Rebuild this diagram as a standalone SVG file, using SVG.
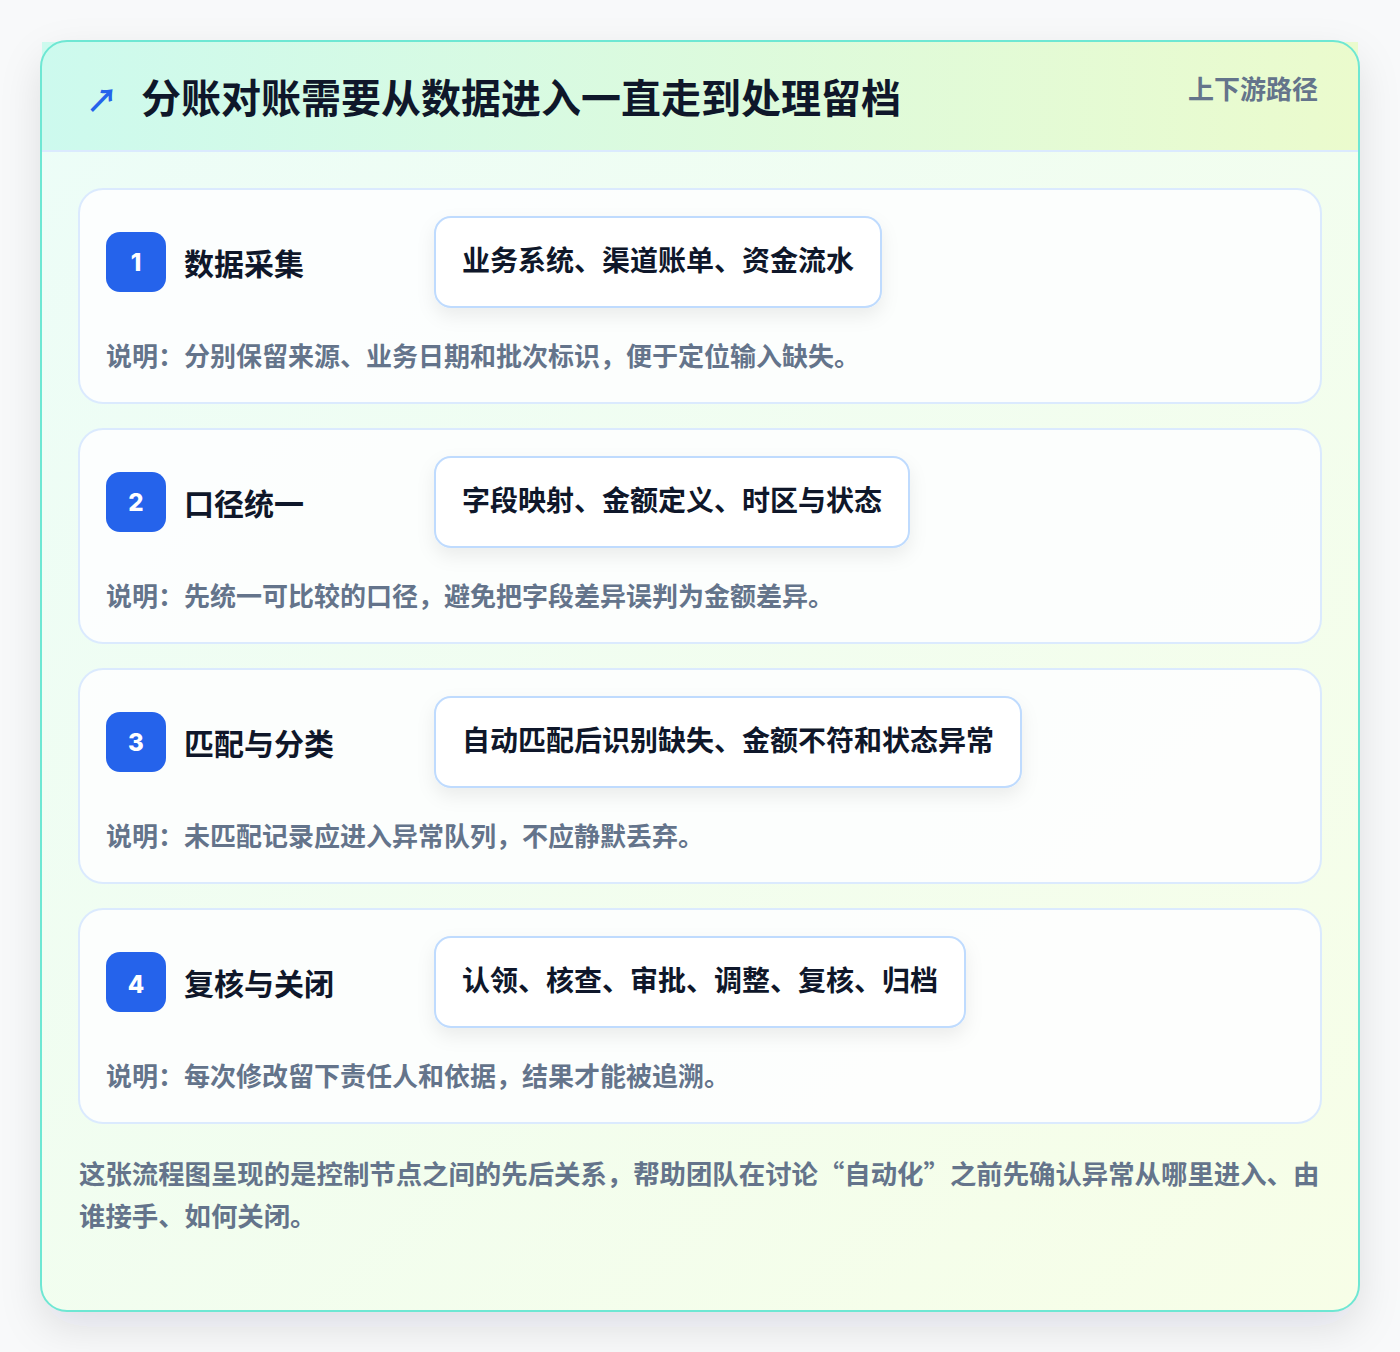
<svg xmlns="http://www.w3.org/2000/svg" width="1400" height="1352" viewBox="0 0 1400 1352">
<defs>
<linearGradient id="bodyGrad" x1="0" y1="0" x2="1" y2="1">
<stop offset="0" stop-color="#ecfdf8"/>
<stop offset="1" stop-color="#f7fee7"/>
</linearGradient>
<linearGradient id="headGrad" x1="0" y1="0" x2="1" y2="0">
<stop offset="0" stop-color="#cdfaee"/>
<stop offset="1" stop-color="#ebfbcd"/>
</linearGradient>
<filter id="outerShadow" x="-10%" y="-10%" width="120%" height="120%">
<feDropShadow dx="0" dy="16" stdDeviation="20" flood-color="#0f172a" flood-opacity="0.11"/>
</filter>
<filter id="chipShadow" x="-10%" y="-30%" width="120%" height="170%">
<feDropShadow dx="0" dy="8" stdDeviation="9" flood-color="#0f172a" flood-opacity="0.07"/>
</filter>
<style>
.t{font-family:"Noto Sans CJK SC","Noto Sans",sans-serif;font-weight:700}
.card{fill:#fdfefe;fill-opacity:0.92;stroke:#dbeafe;stroke-width:2}
.badge{fill:#2563eb}
.num{fill:#ffffff;font-size:24px;text-anchor:middle;font-family:"Inter","Noto Sans",sans-serif;font-weight:800}
.ttl{fill:#0f172a;font-size:30px}
.chip{fill:#ffffff;stroke:#bfdbfe;stroke-width:2}
.chiptext{fill:#0f172a;font-size:28px}
.desc{fill:#64748b;font-size:26px}
</style>
</defs>
<rect width="1400" height="1352" fill="#f8f9fa"/>
<g id="frame">
<rect x="41" y="41" width="1318" height="1270" rx="26" fill="url(#bodyGrad)" filter="url(#outerShadow)"/>
<rect x="42" y="42" width="1316" height="109" fill="url(#headGrad)"/>
<line x1="42" y1="151" x2="1358" y2="151" stroke="#dbeafe" stroke-width="2"/>
<rect x="41" y="41" width="1318" height="1270" rx="26" fill="none" stroke="#6ee7d3" stroke-width="2"/>
<text class="t" x="86" y="112" font-size="32" fill="#2563eb">↗</text>
<text class="t" x="141" y="113" font-size="40" fill="#0f172a">分账对账需要从数据进入一直走到处理留档</text>
<text class="t" x="1318" y="99" font-size="26" fill="#64748b" text-anchor="end">上下游路径</text>
</g>
<g id="node1">
<rect class="card" x="79" y="189" width="1242" height="214" rx="24"/>
<rect class="badge" x="106" y="232" width="60" height="60" rx="14"/>
<text class="num" x="136" y="271">1</text>
<text class="t ttl" x="184" y="275">数据采集</text>
<rect class="chip" x="435" y="217" width="446" height="90" rx="16" filter="url(#chipShadow)"/>
<text class="t chiptext" x="462" y="271">业务系统、渠道账单、资金流水</text>
<text class="t desc" x="106" y="366">说明：分别保留来源、业务日期和批次标识，便于定位输入缺失。</text>
</g>
<g id="node2">
<rect class="card" x="79" y="429" width="1242" height="214" rx="24"/>
<rect class="badge" x="106" y="472" width="60" height="60" rx="14"/>
<text class="num" x="136" y="511">2</text>
<text class="t ttl" x="184" y="515">口径统一</text>
<rect class="chip" x="435" y="457" width="474" height="90" rx="16" filter="url(#chipShadow)"/>
<text class="t chiptext" x="462" y="511">字段映射、金额定义、时区与状态</text>
<text class="t desc" x="106" y="606">说明：先统一可比较的口径，避免把字段差异误判为金额差异。</text>
</g>
<g id="node3">
<rect class="card" x="79" y="669" width="1242" height="214" rx="24"/>
<rect class="badge" x="106" y="712" width="60" height="60" rx="14"/>
<text class="num" x="136" y="751">3</text>
<text class="t ttl" x="184" y="755">匹配与分类</text>
<rect class="chip" x="435" y="697" width="586" height="90" rx="16" filter="url(#chipShadow)"/>
<text class="t chiptext" x="462" y="751">自动匹配后识别缺失、金额不符和状态异常</text>
<text class="t desc" x="106" y="846">说明：未匹配记录应进入异常队列，不应静默丢弃。</text>
</g>
<g id="node4">
<rect class="card" x="79" y="909" width="1242" height="214" rx="24"/>
<rect class="badge" x="106" y="952" width="60" height="60" rx="14"/>
<text class="num" x="136" y="993">4</text>
<text class="t ttl" x="184" y="995">复核与关闭</text>
<rect class="chip" x="435" y="937" width="530" height="90" rx="16" filter="url(#chipShadow)"/>
<text class="t chiptext" x="462" y="991">认领、核查、审批、调整、复核、归档</text>
<text class="t desc" x="106" y="1086">说明：每次修改留下责任人和依据，结果才能被追溯。</text>
</g>
<g id="connectors"></g>
<g id="footer">
<text class="t" x="79" y="1184" font-size="26.4" fill="#64748b">这张流程图呈现的是控制节点之间的先后关系，帮助团队在讨论“自动化”之前先确认异常从哪里进入、由</text>
<text class="t" x="79" y="1226" font-size="26.4" fill="#64748b">谁接手、如何关闭。</text>
</g>
</svg>
